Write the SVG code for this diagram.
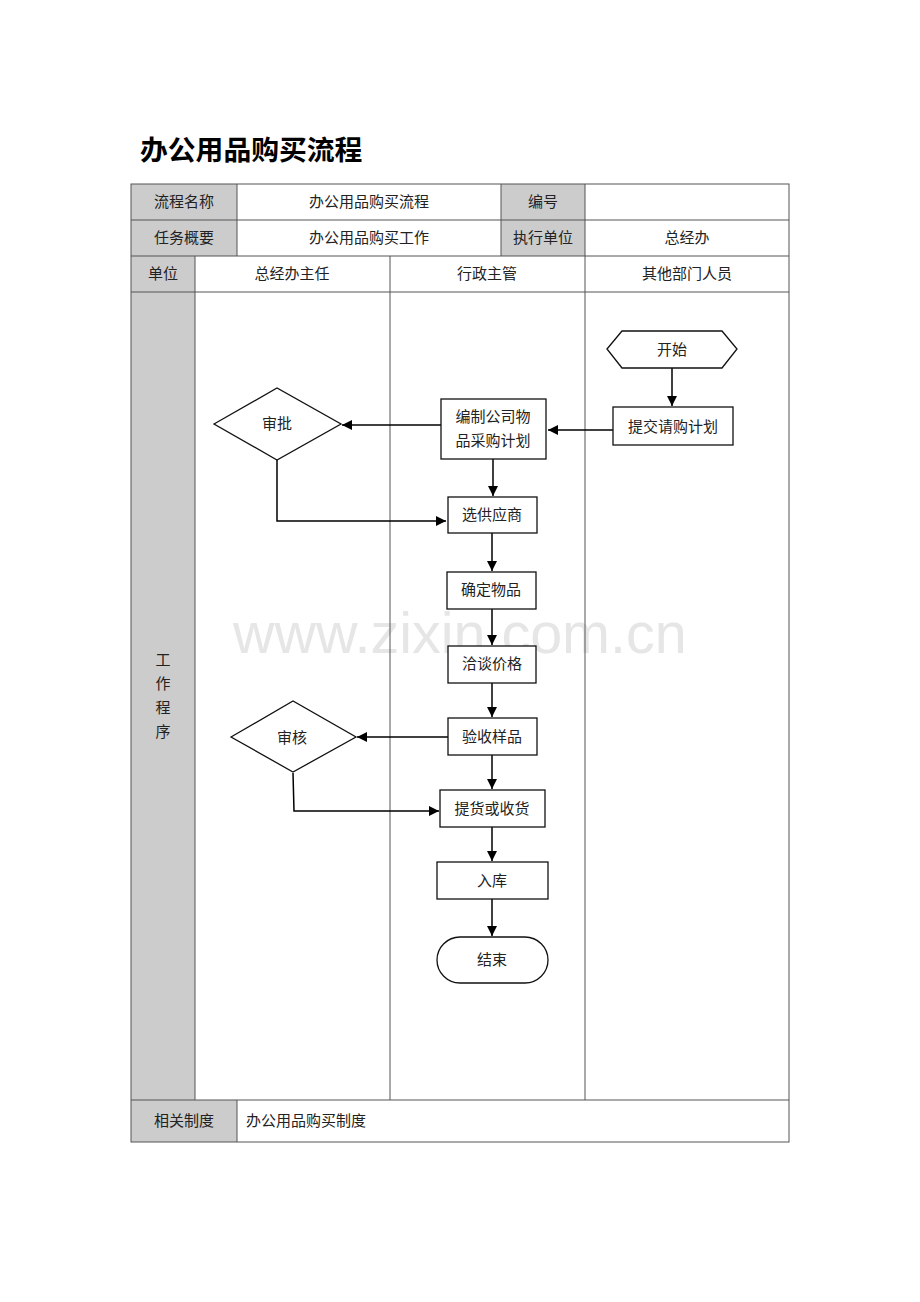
<svg xmlns="http://www.w3.org/2000/svg" width="920" height="1302" viewBox="0 0 920 1302">
<style>
.t{font-family:"Liberation Serif","Noto Sans CJK SC",serif;font-size:15px;fill:#222;text-anchor:middle;dominant-baseline:central}
.tl{text-anchor:start}
.g{fill:#cccccc;stroke:none}
.ln{stroke:#555;stroke-width:1;fill:none}
.nd{fill:#fff;stroke:#111;stroke-width:1.3}
.cn{stroke:#000;stroke-width:1.5;fill:none;marker-end:url(#ar)}
</style>
<defs>
<marker id="ar" viewBox="0 0 10 10" refX="10" refY="5" markerWidth="10" markerHeight="10" markerUnits="userSpaceOnUse" orient="auto">
<path d="M0,0 L10,5 L0,10 z" fill="#000"/>
</marker>
</defs>
<rect width="920" height="1302" fill="#fff"/>
<text x="233" y="653" font-family="Liberation Sans,Arial,sans-serif" font-size="57.5" fill="#e6e6e6">www.zixin.com.cn</text>
<text x="140" y="148" font-family="Noto Sans CJK SC,sans-serif" font-size="27.8" font-weight="bold" fill="#000" dominant-baseline="central">办公用品购买流程</text>
<g id="table">
<rect class="g" x="131" y="184" width="106" height="72"/>
<rect class="g" x="501" y="184" width="84" height="72"/>
<rect class="g" x="131" y="256" width="64" height="844"/>
<rect class="g" x="131" y="1100" width="106" height="42"/>
<rect class="ln" x="131" y="184" width="658" height="958"/>
<line class="ln" x1="131" y1="220" x2="789" y2="220"/>
<line class="ln" x1="131" y1="256" x2="789" y2="256"/>
<line class="ln" x1="131" y1="292" x2="789" y2="292"/>
<line class="ln" x1="131" y1="1100" x2="789" y2="1100"/>
<line class="ln" x1="237" y1="184" x2="237" y2="256"/>
<line class="ln" x1="501" y1="184" x2="501" y2="256"/>
<line class="ln" x1="585" y1="184" x2="585" y2="1100"/>
<line class="ln" x1="195" y1="256" x2="195" y2="1100"/>
<line class="ln" x1="390" y1="256" x2="390" y2="1100"/>
<line class="ln" x1="237" y1="1100" x2="237" y2="1142"/>
<text class="t" x="184" y="202">流程名称</text>
<text class="t" x="369" y="202">办公用品购买流程</text>
<text class="t" x="543" y="202">编号</text>
<text class="t" x="184" y="238">任务概要</text>
<text class="t" x="369" y="238">办公用品购买工作</text>
<text class="t" x="543" y="238">执行单位</text>
<text class="t" x="687" y="238">总经办</text>
<text class="t" x="163" y="274">单位</text>
<text class="t" x="292" y="274">总经办主任</text>
<text class="t" x="487" y="274">行政主管</text>
<text class="t" x="687" y="274">其他部门人员</text>
<text class="t" x="163" y="660">工</text>
<text class="t" x="163" y="684">作</text>
<text class="t" x="163" y="708">程</text>
<text class="t" x="163" y="732">序</text>
<text class="t" x="184" y="1121">相关制度</text>
<text class="t tl" x="246" y="1121">办公用品购买制度</text>
</g>
<g id="connectors">
<line class="cn" x1="672" y1="368" x2="672" y2="406"/>
<line class="cn" x1="613" y1="430" x2="548" y2="430"/>
<line class="cn" x1="441" y1="425" x2="342" y2="425"/>
<polyline class="cn" points="277,460 277,521 446,521"/>
<line class="cn" x1="493" y1="459" x2="493" y2="496"/>
<line class="cn" x1="492" y1="533" x2="492" y2="571"/>
<line class="cn" x1="492" y1="609" x2="492" y2="645"/>
<line class="cn" x1="492" y1="683" x2="492" y2="717"/>
<line class="cn" x1="448" y1="737" x2="357" y2="737"/>
<polyline class="cn" points="293,773 294,811 439,811"/>
<line class="cn" x1="492" y1="755" x2="492" y2="789"/>
<line class="cn" x1="492" y1="827" x2="492" y2="861"/>
<line class="cn" x1="492" y1="899" x2="492" y2="936"/>
</g>
<g id="n-start">
<polygon class="nd" points="607,349 622,331 722,331 737,349 722,368 622,368"/>
<text class="t" x="672" y="350">开始</text>
</g>
<g id="n-submit">
<rect class="nd" x="613" y="407" width="120" height="38"/>
<text class="t" x="673" y="427">提交请购计划</text>
</g>
<g id="n-plan">
<rect class="nd" x="441" y="399" width="105" height="60"/>
<text class="t" x="493" y="417">编制公司物</text>
<text class="t" x="493" y="441">品采购计划</text>
</g>
<g id="n-approve">
<polygon class="nd" points="214,424 277,388 341,424 277,460"/>
<text class="t" x="277" y="424">审批</text>
</g>
<g id="n-supplier">
<rect class="nd" x="448" y="497" width="89" height="36"/>
<text class="t" x="492" y="515">选供应商</text>
</g>
<g id="n-confirm">
<rect class="nd" x="447" y="572" width="89" height="37"/>
<text class="t" x="491" y="590">确定物品</text>
</g>
<g id="n-negotiate">
<rect class="nd" x="448" y="646" width="88" height="37"/>
<text class="t" x="492" y="664">洽谈价格</text>
</g>
<g id="n-inspect">
<rect class="nd" x="448" y="718" width="89" height="37"/>
<text class="t" x="492" y="737">验收样品</text>
</g>
<g id="n-review">
<polygon class="nd" points="231,737 293,701 356,737 293,772"/>
<text class="t" x="292" y="738">审核</text>
</g>
<g id="n-receive">
<rect class="nd" x="440" y="790" width="105" height="37"/>
<text class="t" x="492" y="809">提货或收货</text>
</g>
<g id="n-store">
<rect class="nd" x="437" y="862" width="111" height="37"/>
<text class="t" x="492" y="881">入库</text>
</g>
<g id="n-end">
<rect class="nd" x="437" y="937" width="111" height="46" rx="23" ry="23"/>
<text class="t" x="492" y="960">结束</text>
</g>
</svg>
